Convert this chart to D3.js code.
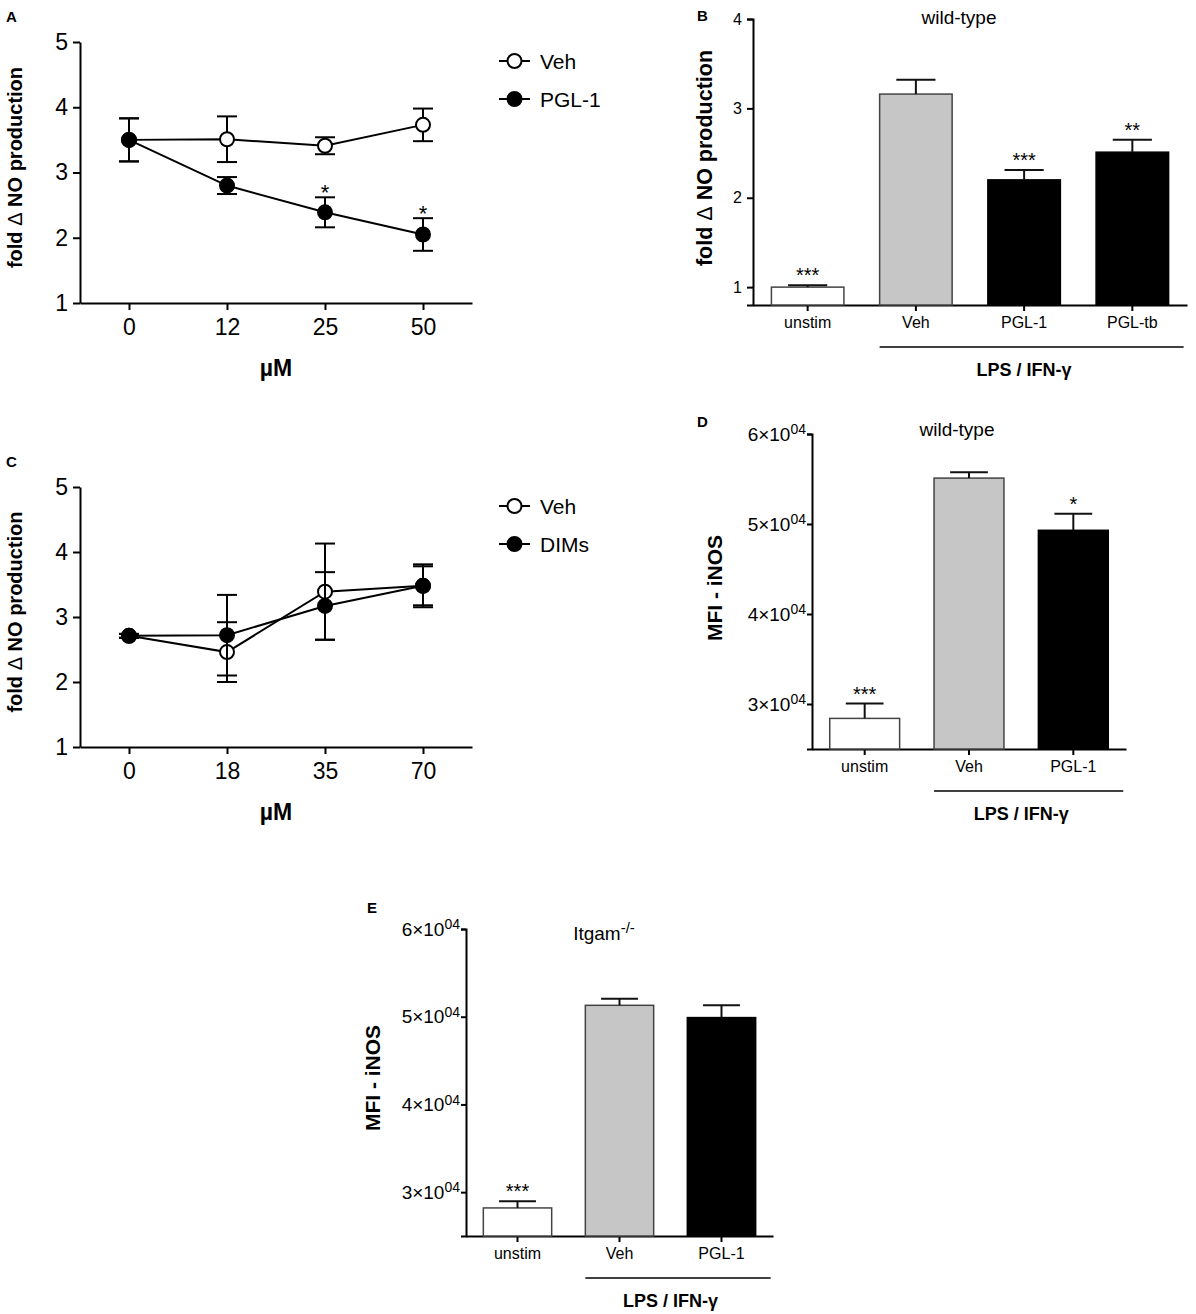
<!DOCTYPE html>
<html>
<head>
<meta charset="utf-8">
<script src="https://cdn.jsdelivr.net/npm/d3@7"></script>
<style>
body { margin: 0; background: #fff; }
svg text { font-family: "Liberation Sans", Arial, sans-serif; fill: #000; }
</style>
</head>
<body>
<svg id="fig" width="1196" height="1314"></svg>
<script>
// ---- panel A : NO production vs PGL-1 dose
const dosesA = ["0", "12", "25", "50"]
const vehA = [3.50, 3.51, 3.41, 3.73]
const vehAErr = [0.33, 0.35, 0.13, 0.25]
const pglA = [3.50, 2.80, 2.39, 2.05]
const pglAErr = [0.33, 0.13, 0.23, 0.25]
const starsA = ["", "", "*", "*"]

// ---- panel C : NO production vs DIMs dose
const dosesC = ["0", "18", "35", "70"]
const vehC = [2.71, 2.46, 3.39, 3.48]
const vehCErr = [0.03, 0.46, 0.74, 0.30]
const dimsC = [2.71, 2.72, 3.17, 3.48]
const dimsCErr = [0.03, 0.62, 0.52, 0.33]

// ---- panel B : wild-type NO production
const groupsB = ["unstim", "Veh", "PGL-1", "PGL-tb"]
const valuesB = [1.00, 3.16, 2.20, 2.51]
const errB = [0.02, 0.16, 0.11, 0.14]
const starsB = ["***", "", "***", "**"]
const ticksB = [1, 2, 3, 4]

// ---- panel D : wild-type iNOS MFI
const groupsD = ["unstim", "Veh", "PGL-1"]
const valuesD = [28400, 55100, 49300]
const errD = [1650, 650, 1850]
const starsD = ["***", "", "*"]

// ---- panel E : Itgam-/- iNOS MFI
const groupsE = ["unstim", "Veh", "PGL-1"]
const valuesE = [28200, 51300, 49900]
const errE = [750, 750, 1400]
const starsE = ["***", "", ""]

const mfiTicks = [30000, 40000, 50000, 60000]
const barFills = ["#ffffff", "#c6c6c6", "#000000", "#000000"]

const svg = d3.select('#fig')

function styleAxis(g, fontSize) {
    g.attr('font-size', fontSize).attr('font-family', null)
    g.selectAll('.domain').attr('stroke', '#000').attr('stroke-width', 2)
    g.selectAll('.tick line').attr('stroke', '#000').attr('stroke-width', 2)
    g.selectAll('.tick text').attr('fill', '#000')
}

function yTitle(g, text, x, y, size) {
    const t = g.append('text')
        .attr('transform', `translate(${x}, ${y}) rotate(-90)`)
        .attr('text-anchor', 'middle')
        .attr('font-size', size)
        .attr('font-weight', 'bold')
    if (text.includes('Δ')) {
        const parts = text.split('Δ')
        t.append('tspan').text(parts[0])
        t.append('tspan').attr('font-weight', 'normal').text('Δ')
        t.append('tspan').text(parts[1])
    } else {
        t.text(text)
    }
}

class LinePanel {
    constructor(_config) {
        this.config = _config
        this.initVis()
        this.renderVis()
    }

    initVis() {
        let vis = this
        let c = vis.config

        vis.g = svg.append('g')

        vis.xScale = d3.scalePoint()
            .domain(c.doses)
            .range([c.x0, c.x1])
            .padding(0.5)

        vis.yScale = d3.scaleLinear()
            .domain([1, 5])
            .range([c.yBottom, c.yTop])

        vis.xAxis = d3.axisBottom(vis.xScale).tickSize(7).tickSizeOuter(0).tickPadding(9)
        vis.yAxis = d3.axisLeft(vis.yScale).tickValues([1, 2, 3, 4, 5]).tickFormat(d3.format('d'))
            .tickSize(7).tickSizeOuter(0).tickPadding(5)

        vis.xAxisGroup = vis.g.append('g')
            .attr('transform', `translate(0, ${c.yBottom})`)
        vis.yAxisGroup = vis.g.append('g')
            .attr('transform', `translate(${c.x0}, 0)`)
    }

    renderVis() {
        let vis = this
        let c = vis.config

        vis.xAxisGroup.call(vis.xAxis)
        vis.yAxisGroup.call(vis.yAxis)
        styleAxis(vis.xAxisGroup, 23)
        styleAxis(vis.yAxisGroup, 23)

        const line = d3.line()
            .x(d => vis.xScale(d.dose))
            .y(d => vis.yScale(d.value))

        c.series.forEach(s => {
            const pts = c.doses.map((dose, i) => ({ dose: dose, value: s.values[i], err: s.errs[i] }))

            vis.g.append('path')
                .datum(pts)
                .attr('d', line)
                .attr('fill', 'none')
                .attr('stroke', '#000')
                .attr('stroke-width', 2)

            const eb = vis.g.append('g').selectAll('g')
                .data(pts)
                .join('g')
                .attr('stroke', '#000')
                .attr('stroke-width', 2)
            eb.append('line')
                .attr('x1', d => vis.xScale(d.dose)).attr('x2', d => vis.xScale(d.dose))
                .attr('y1', d => vis.yScale(d.value - d.err)).attr('y2', d => vis.yScale(d.value + d.err))
            eb.append('line')
                .attr('x1', d => vis.xScale(d.dose) - 10).attr('x2', d => vis.xScale(d.dose) + 10)
                .attr('y1', d => vis.yScale(d.value + d.err)).attr('y2', d => vis.yScale(d.value + d.err))
            eb.append('line')
                .attr('x1', d => vis.xScale(d.dose) - 10).attr('x2', d => vis.xScale(d.dose) + 10)
                .attr('y1', d => vis.yScale(d.value - d.err)).attr('y2', d => vis.yScale(d.value - d.err))

            vis.g.append('g').selectAll('circle')
                .data(pts)
                .join('circle')
                .attr('cx', d => vis.xScale(d.dose))
                .attr('cy', d => vis.yScale(d.value))
                .attr('r', 7)
                .attr('fill', s.filled ? '#000' : '#fff')
                .attr('stroke', '#000')
                .attr('stroke-width', 2)

            if (s.stars) {
                vis.g.append('g').selectAll('text')
                    .data(pts)
                    .join('text')
                    .attr('x', d => vis.xScale(d.dose))
                    .attr('y', d => vis.yScale(d.value + d.err) + 3)
                    .attr('text-anchor', 'middle')
                    .attr('font-size', 22)
                    .text((d, i) => s.stars[i])
            }
        })

        // legend
        c.series.forEach((s, i) => {
            const ly = c.legendY + i * 38
            vis.g.append('line')
                .attr('x1', c.legendX).attr('x2', c.legendX + 31)
                .attr('y1', ly).attr('y2', ly)
                .attr('stroke', '#000').attr('stroke-width', 2)
            vis.g.append('circle')
                .attr('cx', c.legendX + 15.5).attr('cy', ly).attr('r', 7)
                .attr('fill', s.filled ? '#000' : '#fff')
                .attr('stroke', '#000').attr('stroke-width', 2)
            vis.g.append('text')
                .attr('x', c.legendX + 41).attr('y', ly)
                .attr('dy', '0.36em')
                .attr('font-size', 21)
                .text(s.name)
        })

        yTitle(vis.g, 'fold Δ NO production', 22, (c.yTop + c.yBottom) / 2 - 5, 20)

        vis.g.append('text')
            .attr('x', (c.x0 + c.x1) / 2).attr('y', c.yBottom + 73)
            .attr('text-anchor', 'middle')
            .attr('font-size', 23).attr('font-weight', 'bold')
            .text('µM')

        vis.g.append('text')
            .attr('x', 6).attr('y', c.yTop - 20)
            .attr('font-size', 15).attr('font-weight', 'bold')
            .text(c.letter)
    }
}

class BarPanel {
    constructor(_config) {
        this.config = _config
        this.initVis()
        this.renderVis()
    }

    initVis() {
        let vis = this
        let c = vis.config

        vis.g = svg.append('g')

        vis.xScale = d3.scaleBand()
            .domain(c.groups)
            .range([c.x0, c.x1])
            .paddingInner(0.33)
            .paddingOuter(0.17)

        vis.yScale = d3.scaleLinear()
            .domain(c.yDomain)
            .range([c.yBottom, c.yTop])

        vis.xAxis = d3.axisBottom(vis.xScale).tickSize(6).tickSizeOuter(0).tickPadding(6)
        vis.yAxis = d3.axisLeft(vis.yScale).tickValues(c.ticks).tickSizeOuter(0)

        if (c.sci) {
            vis.yAxis.tickSize(5).tickPadding(1)
        } else {
            vis.yAxis.tickSize(6).tickPadding(5).tickFormat(d3.format('d'))
        }

        vis.xAxisGroup = vis.g.append('g')
            .attr('transform', `translate(0, ${c.yBottom})`)
        vis.yAxisGroup = vis.g.append('g')
            .attr('transform', `translate(${c.x0}, 0)`)
    }

    renderVis() {
        let vis = this
        let c = vis.config
        const bw = vis.xScale.bandwidth()

        const data = c.groups.map((g, i) => ({ group: g, value: c.values[i], err: c.errs[i], star: c.stars[i], fill: barFills[i] }))

        vis.g.append('g').selectAll('rect')
            .data(data)
            .join('rect')
            .attr('x', d => vis.xScale(d.group))
            .attr('width', bw)
            .attr('y', d => vis.yScale(d.value))
            .attr('height', d => c.yBottom - vis.yScale(d.value))
            .attr('fill', d => d.fill)
            .attr('stroke', d => d.fill == '#000000' ? '#000' : '#444')
            .attr('stroke-width', 1.5)

        const eb = vis.g.append('g').selectAll('g')
            .data(data)
            .join('g')
            .attr('stroke', '#111')
            .attr('stroke-width', 2)
        eb.append('line')
            .attr('x1', d => vis.xScale(d.group) + bw / 2).attr('x2', d => vis.xScale(d.group) + bw / 2)
            .attr('y1', d => vis.yScale(d.value)).attr('y2', d => vis.yScale(d.value + d.err))
        eb.append('line')
            .attr('x1', d => vis.xScale(d.group) + bw * 0.23).attr('x2', d => vis.xScale(d.group) + bw * 0.77)
            .attr('y1', d => vis.yScale(d.value + d.err)).attr('y2', d => vis.yScale(d.value + d.err))

        vis.g.append('g').selectAll('text')
            .data(data)
            .join('text')
            .attr('x', d => vis.xScale(d.group) + bw / 2)
            .attr('y', d => vis.yScale(d.value + d.err) - 3)
            .attr('text-anchor', 'middle')
            .attr('font-size', 20)
            .text(d => d.star)

        vis.xAxisGroup.call(vis.xAxis)
        vis.yAxisGroup.call(vis.yAxis)
        styleAxis(vis.xAxisGroup, 16)
        styleAxis(vis.yAxisGroup, 16)

        if (c.sci) {
            vis.yAxisGroup.selectAll('.tick text').each(function(d) {
                const t = d3.select(this)
                t.text(null).attr('font-size', 19)
                t.append('tspan').text(`${d / 10000}×10`)
                t.append('tspan').attr('dy', '-0.45em').attr('font-size', 14).text('04')
            })
        }

        // LPS / IFN-γ bracket
        const lx0 = vis.xScale(c.groups[1])
        const lx1 = vis.xScale(c.groups[c.groups.length - 1]) + bw + 15
        vis.g.append('line')
            .attr('x1', lx0).attr('x2', lx1)
            .attr('y1', c.yBottom + 42).attr('y2', c.yBottom + 42)
            .attr('stroke', '#000').attr('stroke-width', 1.5)
        vis.g.append('text')
            .attr('x', (lx0 + vis.xScale(c.groups[c.groups.length - 1]) + bw) / 2)
            .attr('y', c.yBottom + 71)
            .attr('text-anchor', 'middle')
            .attr('font-size', 18).attr('font-weight', 'bold')
            .text('LPS / IFN-γ')

        // title
        const tt = vis.g.append('text')
            .attr('x', c.titleX).attr('y', c.titleY)
            .attr('text-anchor', 'middle')
            .attr('font-size', 19)
            .text(c.title)
        if (c.titleSup) {
            tt.append('tspan').attr('dy', '-0.5em').attr('font-size', 15).text(c.titleSup)
        }

        yTitle(vis.g, c.yLabel, c.yLabelX, c.yLabelY, c.yLabelSize)

        vis.g.append('text')
            .attr('x', c.letterX).attr('y', c.letterY)
            .attr('font-size', 15).attr('font-weight', 'bold')
            .text(c.letter)
    }
}

new LinePanel({
    letter: 'A', doses: dosesA,
    x0: 80, x1: 472, yTop: 42, yBottom: 303,
    legendX: 499, legendY: 61,
    series: [
        { name: 'Veh', values: vehA, errs: vehAErr, filled: false },
        { name: 'PGL-1', values: pglA, errs: pglAErr, filled: true, stars: starsA }
    ]
})

new LinePanel({
    letter: 'C', doses: dosesC,
    x0: 80, x1: 472, yTop: 487, yBottom: 747,
    legendX: 499, legendY: 506,
    series: [
        { name: 'Veh', values: vehC, errs: vehCErr, filled: false },
        { name: 'DIMs', values: dimsC, errs: dimsCErr, filled: true }
    ]
})

new BarPanel({
    letter: 'B', letterX: 697, letterY: 21,
    groups: groupsB, values: valuesB, errs: errB, stars: starsB,
    x0: 753, x1: 1187, yTop: 19, yBottom: 305, yDomain: [0.8, 4], ticks: ticksB,
    title: 'wild-type', titleX: 959, titleY: 24,
    yLabel: 'fold Δ NO production', yLabelX: 712, yLabelY: 158, yLabelSize: 21.5
})

new BarPanel({
    letter: 'D', letterX: 697, letterY: 427, sci: true,
    groups: groupsD, values: valuesD, errs: errD, stars: starsD,
    x0: 812, x1: 1126, yTop: 434, yBottom: 749, yDomain: [25000, 60000], ticks: mfiTicks,
    title: 'wild-type', titleX: 957, titleY: 436,
    yLabel: 'MFI - iNOS', yLabelX: 722, yLabelY: 588, yLabelSize: 21
})

new BarPanel({
    letter: 'E', letterX: 367, letterY: 913, sci: true,
    groups: groupsE, values: valuesE, errs: errE, stars: starsE,
    x0: 466, x1: 773, yTop: 929, yBottom: 1236, yDomain: [25000, 60000], ticks: mfiTicks,
    title: 'Itgam', titleSup: '-/-', titleX: 604, titleY: 940,
    yLabel: 'MFI - iNOS', yLabelX: 380, yLabelY: 1078, yLabelSize: 21
})
</script>
</body>
</html>
